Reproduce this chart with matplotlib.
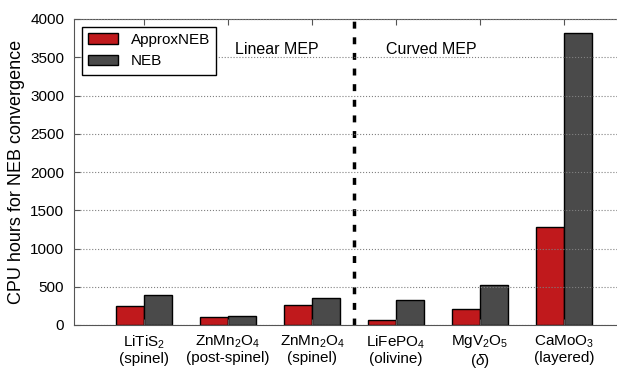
import numpy as np
import matplotlib
matplotlib.use("Agg")
import matplotlib.pyplot as plt

plt.rcParams.update({
    'font.family': ['Liberation Sans', 'DejaVu Sans'],
    'font.size': 11,
    'mathtext.fontset': 'custom',
    'mathtext.rm': 'Liberation Sans',
    'mathtext.it': 'Liberation Sans:italic',
    'mathtext.bf': 'Liberation Sans:bold',
})

materials = ["LiTiS$_2$\n(spinel)", "ZnMn$_2$O$_4$\n(post-spinel)", "ZnMn$_2$O$_4$\n(spinel)",
             "LiFePO$_4$\n(olivine)", "MgV$_2$O$_5$\n($\\delta$)", "CaMoO$_3$\n(layered)"]
approx_neb = [254, 105, 267, 61, 210, 1280]
neb = [390, 122, 359, 333, 526, 3820]

red = "#c0191c"
gray = "#4a4a4a"

fig = plt.figure(figsize=(6.17, 3.70), dpi=100)
ax = fig.add_axes([74 / 617, 45 / 370, 560 / 617, 306 / 370])

x = np.arange(len(materials))
w = 1 / 3.0
ax.bar(x - w / 2, approx_neb, w, color=red, edgecolor='black', linewidth=1, label='ApproxNEB')
ax.bar(x + w / 2, neb, w, color=gray, edgecolor='black', linewidth=1, label='NEB')

ax.yaxis.grid(True, ls=':', color='gray', lw=0.8)
ax.set_axisbelow(False)
ax.axvline(2.5, color='black', ls='--', lw=2.5, dashes=(2, 2.5))

ax.text(1.58, 3600, "Linear MEP", ha='center', va='center', fontsize=11.5)
ax.text(3.42, 3600, "Curved MEP", ha='center', va='center', fontsize=11.5)

ax.set_xlim(-0.833, 5.833)
ax.set_ylim(0, 4000)
ax.set_yticks(np.arange(0, 4001, 500))
ax.set_xticks(x)
ax.set_xticklabels(materials, linespacing=1.1)
ax.tick_params(direction='in', top=True, right=True, length=4, color='#555555')
ax.tick_params(axis='x', pad=6)
ax.tick_params(axis='y', pad=7)
for s in ax.spines.values():
    s.set_color('#555555')
ax.set_ylabel("CPU hours for NEB convergence", fontsize=13)
ax.yaxis.set_label_coords(-0.088, 0.5)

ax.legend(loc='upper left', fancybox=False, edgecolor='black', framealpha=1,
          borderaxespad=0.5, handlelength=2.0, fontsize=11)

fig.savefig("out.png", dpi=100)
